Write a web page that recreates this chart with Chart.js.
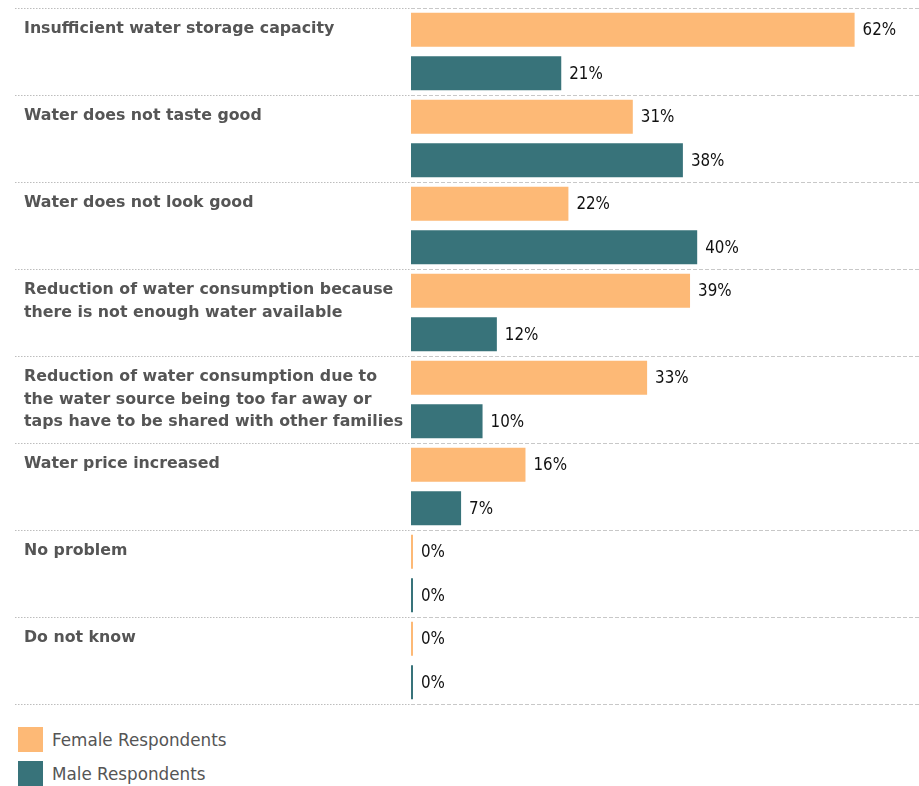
<!DOCTYPE html>
<html>
<head>
<meta charset="utf-8">
<script src="https://cdn.jsdelivr.net/npm/chart.js@4"></script>
<style>
  html, body { margin: 0; padding: 0; background: #fff; }
  #wrap { position: relative; width: 919px; height: 786px; }
  #chartBox { position: absolute; left: 0; top: 0; width: 919px; height: 720px; }
  #legend { position: absolute; left: 18px; top: 727px; font-family: 'DejaVu Sans'; font-size: 16.8px; color: #555; }
  .item { display: flex; align-items: center; height: 25px; margin-bottom: 9px; }
  .sw { width: 25px; height: 25px; margin-right: 9px; }
</style>
</head>
<body>
<div id="wrap">
  <div id="chartBox"><canvas id="chart"></canvas></div>
  <div id="legend"></div>
</div>
<script>
// ---- data ----
const categories = [
  ["Insufficient water storage capacity"],
  ["Water does not taste good"],
  ["Water does not look good"],
  ["Reduction of water consumption because", "there is not enough water available"],
  ["Reduction of water consumption due to", "the water source being too far away or", "taps have to be shared with other families"],
  ["Water price increased"],
  ["No problem"],
  ["Do not know"]
];
const seriesNames = ["Female Respondents", "Male Respondents"];
const femaleValues = [62, 31, 22, 39, 33, 16, 0, 0];
const maleValues = [21, 38, 40, 12, 10, 7, 0, 0];
const colors = ["#FDB976", "#38737A"];

// pad labels to 3 lines so every first line sits at the top of its band
const paddedLabels = categories.map(l => { const a = l.slice(); while (a.length < 3) a.push(""); return a; });

const valueLabels = {
  id: 'valueLabels',
  afterDatasetsDraw(chart) {
    const ctx = chart.ctx;
    ctx.save();
    ctx.font = "16.8px 'DejaVu Sans Condensed'";
    ctx.fillStyle = "#111";
    ctx.textAlign = "left";
    ctx.textBaseline = "middle";
    chart.data.datasets.forEach((ds, di) => {
      chart.getDatasetMeta(di).data.forEach((el, i) => {
        ctx.fillText(ds.data[i] + "%", el.x + 8, el.y + 1);
      });
    });
    ctx.restore();
  }
};

const chart = new Chart(document.getElementById('chart'), {
  type: 'bar',
  data: {
    labels: paddedLabels,
    datasets: [
      { label: seriesNames[0], data: femaleValues, backgroundColor: colors[0] },
      { label: seriesNames[1], data: maleValues, backgroundColor: colors[1] }
    ]
  },
  options: {
    indexAxis: 'y',
    responsive: true,
    maintainAspectRatio: false,
    animation: false,
    layout: { padding: { left: 24, right: 0, top: 8, bottom: 16 } },
    datasets: { bar: { barPercentage: 0.78, categoryPercentage: 1.0, minBarLength: 2 } },
    plugins: { legend: { display: false }, tooltip: { enabled: false } },
    scales: {
      x: { display: false, min: 0, max: 71 },
      y: {
        offset: true,
        border: { display: false, dash: [4, 2] },
        afterFit(scale) { scale.width = 387; scale.paddingTop = 0; scale.paddingBottom = 0; },
        grid: {
          offset: true,
          drawOnChartArea: true,
          color: '#c8c8c8',
          tickLength: 396,
          tickColor: '#bdbdbd',
          tickBorderDash: [1.5, 1.5],
          tickWidth: 1
        },
        ticks: {
          crossAlign: 'far',
          color: '#555',
          padding: 0,
          font: { family: "'DejaVu Sans'", size: 15.8, weight: 'bold', lineHeight: 1.42 }
        }
      }
    }
  },
  plugins: [valueLabels]
});

// legend as real text built from the chart datasets
const lg = document.getElementById('legend');
chart.data.datasets.forEach(ds => {
  const it = document.createElement('div'); it.className = 'item';
  const sw = document.createElement('div'); sw.className = 'sw'; sw.style.background = ds.backgroundColor;
  const tx = document.createElement('span'); tx.textContent = ds.label;
  it.appendChild(sw); it.appendChild(tx); lg.appendChild(it);
});
</script>
</body>
</html>
